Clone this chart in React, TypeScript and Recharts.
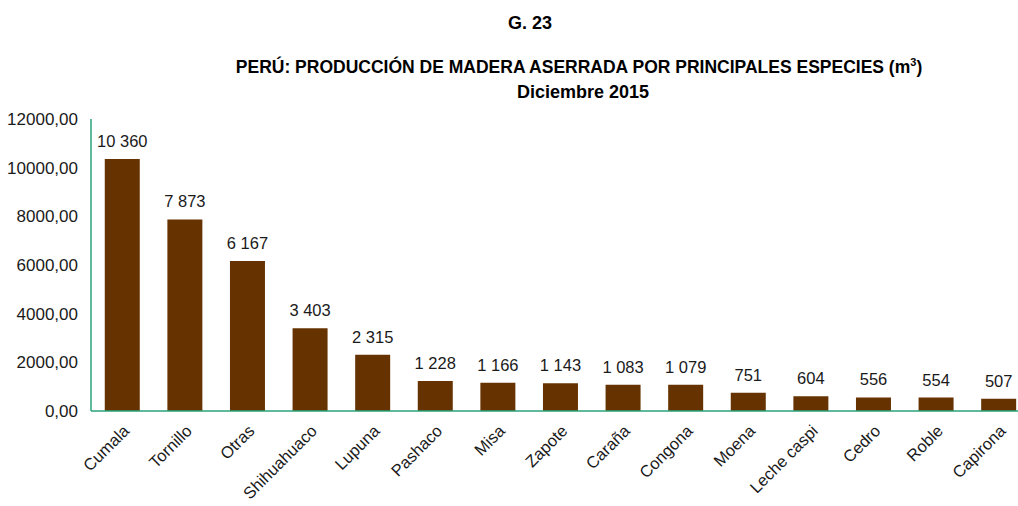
import { Bar, BarChart, LabelList, XAxis, YAxis } from "recharts";

// Madera aserrada por especie, diciembre 2015 (m3)
const species = [
  "Cumala",
  "Tornillo",
  "Otras",
  "Shihuahuaco",
  "Lupuna",
  "Pashaco",
  "Misa",
  "Zapote",
  "Caraña",
  "Congona",
  "Moena",
  "Leche caspi",
  "Cedro",
  "Roble",
  "Capirona",
];
const volume = [10360, 7873, 6167, 3403, 2315, 1228, 1166, 1143, 1083, 1079, 751, 604, 556, 554, 507];
const yTicks = [0, 2000, 4000, 6000, 8000, 10000, 12000];

const data = species.map((name, i) => ({ name, value: volume[i] }));

const FONT = "'Liberation Sans', Arial, sans-serif";
const AXIS_GREEN = "#2aa37b";

const fmtTick = (v: number) => v.toFixed(2).replace(".", ",");
// non-breaking space so recharts doesn't wrap "10 360" onto two lines
const fmtLabel = (v: any) => String(v).replace(/\B(?=(\d{3})+(?!\d))/g, "\u00a0");

function SpeciesTick(props: any) {
  const { x, y, payload } = props;
  return (
    <g transform={`translate(${x + 8},${y + 21})`}>
      <text
        x={0}
        y={0}
        textAnchor="end"
        transform="rotate(-45)"
        fontSize={16.5}
        fontFamily={FONT}
        fill="#1a1a1a"
      >
        {payload.value}
      </text>
    </g>
  );
}

export default function App() {
  return (
    <div
      style={{
        position: "absolute",
        left: 0,
        top: 0,
        width: 1018,
        height: 506,
        overflow: "hidden",
        background: "#fff",
        fontFamily: FONT,
      }}
    >
      <svg
        width={1018}
        height={110}
        style={{ position: "absolute", left: 0, top: 0 }}
      >
        <text x={530} y={29} textAnchor="middle" fontWeight="bold" fontSize={18} fontFamily={FONT} fill="#000">
          G. 23
        </text>
        <text x={579} y={73} textAnchor="middle" fontWeight="bold" fontSize={17.5} fontFamily={FONT} fill="#000">
          PERÚ: PRODUCCIÓN DE MADERA ASERRADA POR PRINCIPALES ESPECIES (m
          <tspan fontSize={11} dy={-7}>3</tspan>
          <tspan dy={7}>)</tspan>
        </text>
        <text x={583} y={98} textAnchor="middle" fontWeight="bold" fontSize={18} fontFamily={FONT} fill="#000">
          Diciembre 2015
        </text>
      </svg>
      <BarChart
        width={1040}
        height={506}
        data={data}
        margin={{ top: 119, right: 10, bottom: 0, left: 0 }}
        barCategoryGap="22%"
        style={{ position: "absolute", left: 0, top: 0 }}
      >
        <YAxis
          width={91}
          domain={[0, 12000]}
          ticks={yTicks}
          tickFormatter={fmtTick}
          tickLine={false}
          tickSize={6}
          tickMargin={7}
          axisLine={{ stroke: AXIS_GREEN, strokeWidth: 1.5 }}
          tick={{ fontSize: 17, fontFamily: FONT, fill: "#1a1a1a" }}
          interval={0}
        />
        <XAxis
          dataKey="name"
          height={95}
          interval={0}
          tickLine={false}
          tickSize={0}
          tickMargin={0}
          axisLine={{ stroke: AXIS_GREEN, strokeWidth: 1.5 }}
          tick={<SpeciesTick />}
        />
        <Bar dataKey="value" fill="#663300" isAnimationActive={false}>
          <LabelList
            dataKey="value"
            position="top"
            offset={12}
            formatter={fmtLabel}
            fontSize={16.5}
            fontFamily={FONT}
            fill="#1a1a1a"
          />
        </Bar>
      </BarChart>
    </div>
  );
}
